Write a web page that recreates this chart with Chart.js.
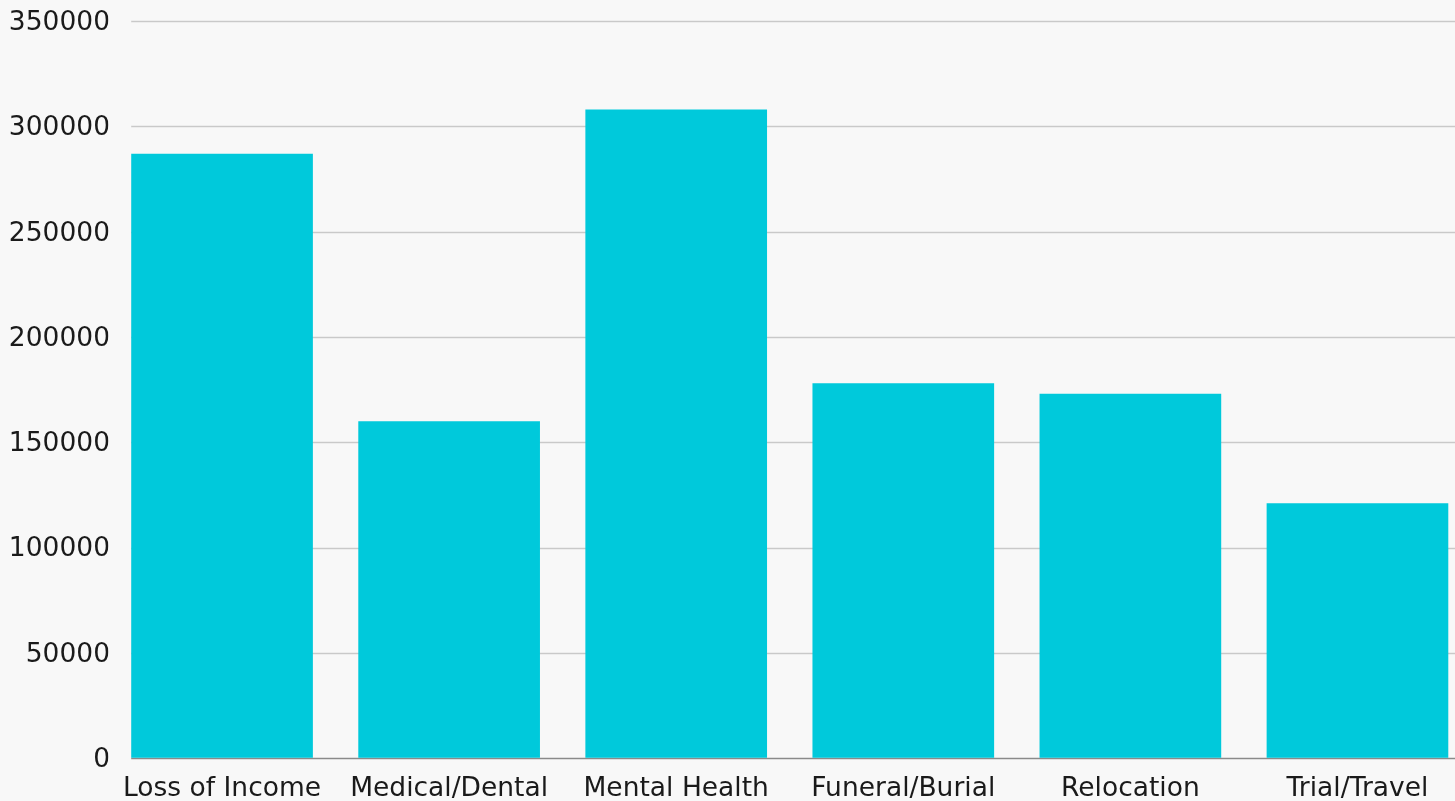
<!DOCTYPE html>
<html>
<head>
<meta charset="utf-8">
<script src="https://cdn.jsdelivr.net/npm/chart.js@4"></script>
<style>
  html, body { margin: 0; padding: 0; overflow: hidden; background: #f8f8f8; }
  #wrap { width: 1471px; height: 820px; position: relative; }
</style>
</head>
<body>
<div id="wrap"><canvas id="costChart"></canvas></div>
<script>
const categories = ["Loss of Income", "Medical/Dental", "Mental Health", "Funeral/Burial", "Relocation", "Trial/Travel"];
const amounts = [287000, 160000, 308000, 178000, 173000, 121000];
const yTicks = [0, 50000, 100000, 150000, 200000, 250000, 300000, 350000];

// gridlines start at the first bar, like the original
const gridFromFirstBar = {
  id: "gridFromFirstBar",
  beforeDatasetsDraw(chart) {
    const el = chart.getDatasetMeta(0).data[0];
    if (!el) return;
    const x0 = el.x - el.width / 2;
    const x1 = chart.chartArea.right;
    const y = chart.scales.y;
    const ctx = chart.ctx;
    ctx.save();
    y.ticks.forEach(t => {
      const py = Math.round(y.getPixelForValue(t.value)) + 0.5;
      ctx.strokeStyle = t.value === 0 ? "#8a8a8a" : "#c9c9c9";
      ctx.lineWidth = 1.5;
      ctx.beginPath();
      ctx.moveTo(x0, py);
      ctx.lineTo(x1, py);
      ctx.stroke();
    });
    ctx.restore();
  }
};

new Chart(document.getElementById("costChart"), {
  type: "bar",
  data: {
    labels: categories,
    datasets: [{
      data: amounts,
      backgroundColor: "#00c9db",
      borderWidth: 0,
      barPercentage: 0.8,
      categoryPercentage: 1.0
    }]
  },
  options: {
    responsive: true,
    maintainAspectRatio: false,
    animation: false,
    layout: { padding: { top: 21, left: 8.5, right: 0, bottom: 0 } },
    plugins: { legend: { display: false }, tooltip: { enabled: false } },
    scales: {
      x: {
        grid: { display: false, drawTicks: false },
        border: { display: false },
        ticks: {
          padding: 15,
          color: "#1a1a1a",
          font: { family: "DejaVu Sans", size: 26.5 },
          maxRotation: 0
        }
      },
      y: {
        min: 0,
        max: 350000,
        afterFit: s => { s.width = 100; },
        afterBuildTicks: s => { s.ticks = yTicks.map(v => ({ value: v })); },
        grid: { drawOnChartArea: false, drawTicks: false },
        border: { display: false },
        ticks: {
          padding: -1.5,
          labelOffset: 2,
          color: "#1a1a1a",
          font: { family: "DejaVu Sans", size: 26.5 },
          callback: v => String(v)
        }
      }
    }
  },
  plugins: [gridFromFirstBar]
});
</script>
</body>
</html>
